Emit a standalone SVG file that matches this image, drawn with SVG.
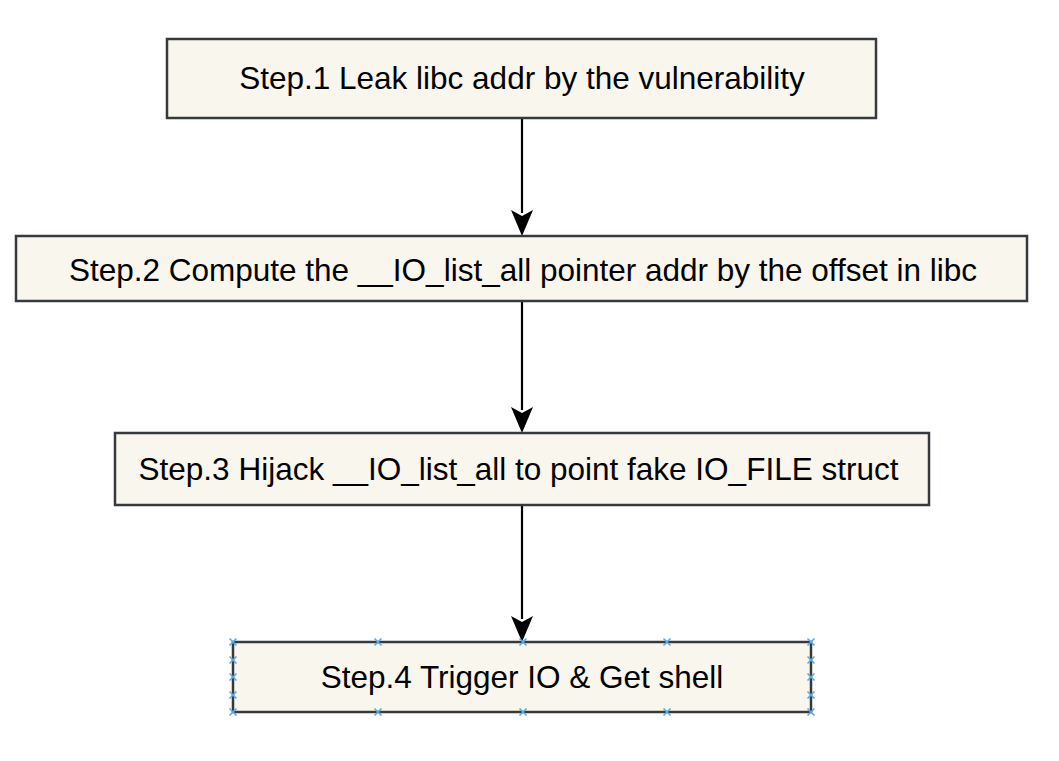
<svg xmlns="http://www.w3.org/2000/svg" width="1059" height="761" viewBox="0 0 1059 761">
<style>
.box{fill:#f9f7ed;stroke:#36393d;stroke-width:2.5}
.lbl{font-family:"Liberation Sans",Arial,sans-serif;font-size:31.5px;fill:#000;text-anchor:middle}
.edge{stroke:#000;stroke-width:2.2;fill:none}
.h{stroke:#5aa9e6;stroke-width:1.6;fill:none}
</style>
<defs>
<path id="x" d="M-3.5,-3.5 L3.5,3.5 M-3.5,3.5 L3.5,-3.5" class="h"/>
</defs>
<rect width="1059" height="761" fill="#fff"/>
<g id="connectors">
<path class="edge" d="M522,119 V213"/>
<path d="M522,236 L511,210 L522,216 L533,210 Z" fill="#000"/>
<path class="edge" d="M522,302 V410"/>
<path d="M522,433 L511,407 L522,413 L533,407 Z" fill="#000"/>
<path class="edge" d="M522,506 V619"/>
<path d="M522,642 L511,616 L522,622 L533,616 Z" fill="#000"/>
</g>
<g id="step1">
<rect class="box" x="167" y="39" width="709" height="79"/>
<text class="lbl" x="522" y="89">Step.1 Leak libc addr by the vulnerability</text>
</g>
<g id="step2">
<rect class="box" x="16" y="236" width="1011" height="65"/>
<text class="lbl" x="523" y="281">Step.2 Compute the __IO_list_all pointer addr by the offset in libc</text>
</g>
<g id="step3">
<rect class="box" x="115" y="433" width="814" height="72"/>
<text class="lbl" x="518.5" y="480">Step.3 Hijack __IO_list_all to point fake IO_FILE struct</text>
</g>
<g id="step4">
<rect class="box" x="233" y="642" width="578" height="70"/>
<text class="lbl" x="522" y="688">Step.4 Trigger IO &amp; Get shell</text>
</g>
<g id="handles">
<use href="#x" x="233" y="642"/><use href="#x" x="378" y="642"/><use href="#x" x="523" y="642"/><use href="#x" x="667" y="642"/><use href="#x" x="811" y="642"/>
<use href="#x" x="233" y="712"/><use href="#x" x="378" y="712"/><use href="#x" x="523" y="712"/><use href="#x" x="667" y="712"/><use href="#x" x="811" y="712"/>
<use href="#x" x="233" y="660"/><use href="#x" x="233" y="677"/><use href="#x" x="233" y="695"/>
<use href="#x" x="811" y="660"/><use href="#x" x="811" y="677"/><use href="#x" x="811" y="695"/>
</g>
</svg>
